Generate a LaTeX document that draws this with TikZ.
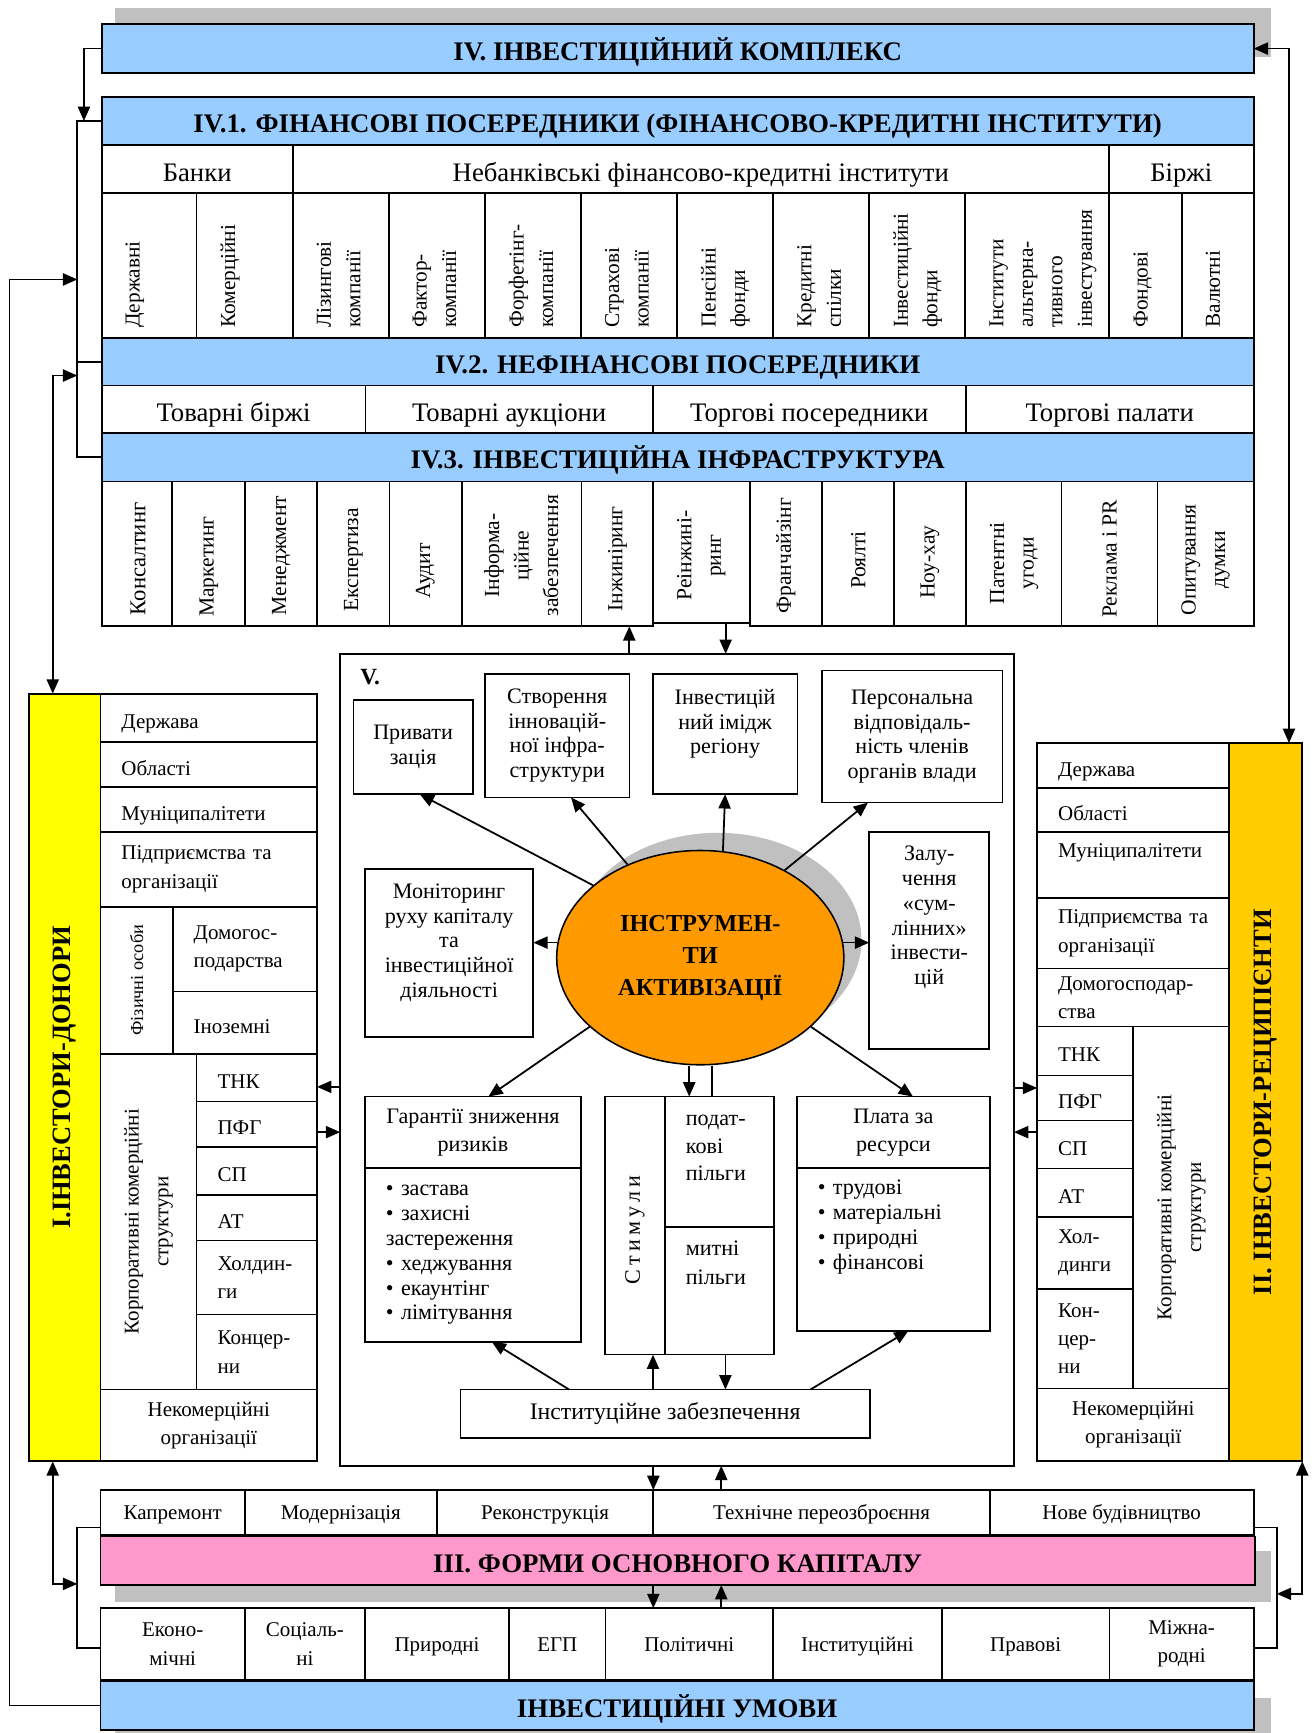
\documentclass[tikz,border=0pt]{standalone}
\usepackage{fontspec}
\setmainfont{Liberation Serif}
\usetikzlibrary{arrows.meta,calc,shapes.geometric}
\definecolor{cblue}{HTML}{99CCFF}
\definecolor{cyellow}{HTML}{FFFF00}
\definecolor{cgold}{HTML}{FFCC00}
\definecolor{cpink}{HTML}{FF99CC}
\definecolor{corange}{HTML}{FF9900}
\definecolor{cgray}{HTML}{C0C0C0}
\newcommand\fs[2]{\fontsize{#1}{#2}\selectfont}
\newcommand\mybox[7]{\pgfmathsetmacro\cw{#4-#2}\pgfmathsetmacro\ch{#5-#3}%
  \node[bx, minimum width=\cw pt, minimum height=\ch pt, anchor=north west, align=center, #6] (#1) at (#2,#3) {#7};}
\newcommand\mylbox[7]{\pgfmathsetmacro\cw{#4-#2}\pgfmathsetmacro\ch{#5-#3}\pgfmathsetmacro\tw{#4-#2-38}%
  \node[bx, minimum width=\cw pt, minimum height=\ch pt, anchor=north west, align=left, text width=\tw pt, #6] (#1) at (#2,#3) {#7};}
\tikzset{
  bx/.style={draw, line width=1.6pt, inner sep=0pt, outer sep=0pt},
  hdr/.style={font=\fs{24.3}{28}\bfseries, text height=21pt, text depth=0pt},
  tf/.style={font=\fs{24.2}{28}, text height=23pt, text depth=0pt},
  lf/.style={font=\fs{19}{25.7}},
  lf1/.style={font=\fs{19}{25.7}, text height=19pt, text depth=0pt},
  vf/.style={font=\fs{20}{22.4}},
  bf/.style={font=\fs{19}{25.6}},
  bf1/.style={font=\fs{19}{25.6}, text height=13pt, text depth=0pt},
  arr/.style={line width=1.6pt, -{Triangle[length=13pt,width=11pt]}},
  darr/.style={line width=1.6pt, {Triangle[length=13pt,width=11pt]}-{Triangle[length=13pt,width=11pt]}},
  ln/.style={line width=1.6pt},
  vt/.style={rotate=90, inner sep=0pt, align=left, anchor=north west, font=\fs{19.3}{26.7}},
  it/.style={rotate=90, inner sep=0pt, align=center, font=\fs{19.5}{26.7}},
  rt/.style={rotate=90, inner sep=0pt, align=center},
}
\begin{document}
\begin{tikzpicture}[x=1pt,y=-1pt]
\useasboundingbox (0,0) rectangle (1190,1569);
% ---------- IV ----------
\fill[cgray] (104,7) rectangle (1151,52);
\mybox{iv}{92}{22}{1135}{66}{fill=cblue,hdr}{IV. ІНВЕСТИЦІЙНИЙ КОМПЛЕКС}
\mybox{iv1}{92}{88}{1135}{131}{fill=cblue,hdr}{IV.1. ФІНАНСОВІ ПОСЕРЕДНИКИ (ФІНАНСОВО-КРЕДИТНІ ІНСТИТУТИ)}
\mybox{h1}{92}{131}{265}{175}{tf}{Банки}
\mybox{h2}{265}{131}{1004}{175}{tf}{Небанківські фінансово-кредитні інститути}
\mybox{h3}{1004}{131}{1135}{175}{tf}{Біржі}
\foreach \a/\b [count=\i] in {92/178,178/265,265/352,352/439,439/526,526/613,613/700,700/787,787/874,874/1004,1004/1070,1070/1135}
  {\mybox{f\i}{\a}{175}{\b}{306}{}{}}
\node[vt] (v1) at (113.5,297) {Державні};
\node[vt] (v2) at (199.5,297) {Комерційні};
\node[vt] (v3) at (286.5,297) {Лізингові\\компанії};
\node[vt] (v4) at (373.5,297) {Фактор-\\компанії};
\node[vt] (v5) at (460.5,297) {Форфетінг-\\компанії};
\node[vt] (v6) at (547.5,297) {Страхові\\компанії};
\node[vt] (v7) at (634.5,297) {Пенсійні\\фонди};
\node[vt] (v8) at (721.5,297) {Кредитні\\спілки};
\node[vt] (v9) at (808.5,297) {Інвестиційні\\фонди};
\node[vt] (v10) at (895.5,297) {Інститути\\альтерна-\\тивного\\інвестування};
\node[vt] (v11) at (1026,297) {Фондові};
\node[vt] (v12) at (1091.5,297) {Валютні};
\mybox{iv2}{92}{306}{1135}{349}{fill=cblue,hdr}{IV.2. НЕФІНАНСОВІ ПОСЕРЕДНИКИ}
\mybox{n1}{92}{349}{331}{392}{tf}{Товарні біржі}
\mybox{n2}{331}{349}{591}{392}{tf}{Товарні аукціони}
\mybox{n3}{591}{349}{874.5}{392}{tf}{Торгові посередники}
\mybox{n4}{874.5}{349}{1135}{392}{tf}{Торгові палати}
\mybox{iv3}{92}{392}{1135}{436}{fill=cblue,hdr}{IV.3. ІНВЕСТИЦІЙНА ІНФРАСТРУКТУРА}
\foreach \a/\b/\c [count=\i] in {92/156/567,156/222/567,222/287/567,287/352.6/567,352.6/418/567,418/526.5/567,526.5/591/567,591/679/564,679/744/567,744/809.5/567,809.5/874.5/567,874.5/961/567,961/1048/567,1048/1135/567}
  {\mybox{c\i}{\a}{436}{\b}{\c}{}{}}
\node[it, font=\fs{20.5}{26.7}] (ct1) at (125,506) {Консалтинг};
\node[it] (ct2) at (189,513) {Маркетинг};
\node[it] (ct3) at (254.5,503) {Менеджмент};
\node[it] (ct4) at (320,507) {Експертиза};
\node[it] (ct5) at (385,517) {Аудит};
\node[it] (ct6) at (472,503) {Інформа-\\ційне\\забезпечення};
\node[it] (ct7) at (559,506) {Інжиніринг};
\node[it] (ct8) at (635,503) {Реінжині-\\ринг};
\node[it] (ct9) at (711.5,503) {Франчайзінг};
\node[it] (ct10) at (777,507) {Роялті};
\node[it] (ct11) at (842,509) {Ноу-хау};
\node[it] (ct12) at (918,510) {Патентні\\угоди};
\node[it] (ct13) at (1004.5,506) {Реклама і PR};
\node[it] (ct14) at (1091.5,507) {Опитування\\думки};
% ---------- I. donors ----------
\mybox{dn}{26.5}{628}{91}{1323}{fill=cyellow}{}
\node[rt, font=\fs{24}{28}\bfseries] (dnt) at (dn.center) {I.ІНВЕСТОРИ-ДОНОРИ};
\mylbox{l1}{91}{628}{287}{672}{lf1}{Держава}
\mylbox{l2}{91}{672}{287}{712.5}{lf1}{Області}
\mylbox{l3}{91}{712.5}{287}{753.3}{lf1}{Муніципалітети}
\mylbox{l4}{91}{753.3}{287}{821}{lf}{Підприємства~та\\організації}
\mybox{l5}{91}{821}{156.4}{954}{}{}
\node[rt, font=\fs{16.5}{20}] (l5t) at (l5.center) {Фізичні особи};
\mylbox{l6}{156.4}{821}{287}{897.6}{lf}{Домогос-\\подарства}
\mylbox{l7}{156.4}{897.6}{287}{954}{lf1}{Іноземні}
\mybox{l8}{91}{954}{178}{1258}{}{}
\node[rt, font=\fs{19}{27}] (l8t) at (l8.center) {Корпоративні комерційні\\структури};
\mylbox{l9}{178}{954}{287}{997.3}{lf1}{ТНК}
\mylbox{l10}{178}{997.3}{287}{1038.6}{lf1}{ПФГ}
\mylbox{l11}{178}{1038.6}{287}{1081.8}{lf1}{СП}
\mylbox{l12}{178}{1081.8}{287}{1123}{lf1}{АТ}
\mylbox{l13}{178}{1123}{287}{1190}{lf}{Холдин-\\ги}
\mylbox{l14}{178}{1190}{287}{1258}{lf}{Концер-\\ни}
\mybox{l15}{91}{1258}{287}{1323}{lf}{Некомерційні\\організації}
% ---------- II. recipients ----------
\mybox{rc}{1113}{672.7}{1179}{1323}{fill=cgold}{}
\node[rt, font=\fs{24}{28}\bfseries] (rct) at (rc.center) {II. ІНВЕСТОРИ-РЕЦИПІЄНТИ};
\mylbox{r1}{939}{672.7}{1113}{713.5}{lf1}{Держава}
\mylbox{r2}{939}{713.5}{1113}{753}{lf1}{Області}
\mylbox{r3}{939}{753}{1113}{813}{lf}{Муніципалітети\\~}
\mylbox{r4}{939}{813}{1113}{876.8}{lf}{Підприємства~та\\організації}
\mylbox{r5}{939}{876.8}{1113}{929.4}{lf}{Домогосподар-\\ства}
\mylbox{r6}{939}{929.4}{1026}{973.7}{lf1}{ТНК}
\mylbox{r7}{939}{973.7}{1026}{1014.5}{lf1}{ПФГ}
\mylbox{r8}{939}{1014.5}{1026}{1058}{lf1}{СП}
\mylbox{r9}{939}{1058}{1026}{1101.5}{lf1}{АТ}
\mylbox{r10}{939}{1101.5}{1026}{1166.7}{lf}{Хол-\\динги}
\mylbox{r11}{939}{1166.7}{1026}{1257}{lf}{Кон-\\цер-\\ни}
\mybox{r12}{1026}{929.4}{1113}{1257}{}{}
\node[rt, font=\fs{19}{27}] (r12t) at (r12.center) {Корпоративні комерційні\\структури};
\mybox{r13}{939}{1257}{1113}{1323}{lf}{Некомерційні\\організації}
% ---------- V ----------
\mybox{vb}{308}{592}{918}{1327}{}{}
\node[font=\fs{21}{24}\bfseries, anchor=west, inner sep=0pt] (vlab) at (326,613) {V.};
\mybox{p1}{320}{633.5}{428}{719}{vf}{Привати\\зація}
\mybox{p2}{439}{610}{570}{722}{vf}{Створення\\інновацій-\\ної інфра-\\структури}
\mybox{p3}{591}{610}{722}{719}{vf}{Інвестицій\\ний імідж\\регіону\\~}
\mybox{p4}{744}{607}{907.6}{726.6}{vf}{Персональна\\відповідаль-\\ність членів\\органів влади}
\mybox{p5}{330.4}{786.5}{482.8}{939}{vf}{Моніторинг\\руху капіталу\\та\\інвестиційної\\діяльності\\~}
\mybox{p6}{787}{753}{895.7}{949.5}{vf}{Залу-\\чення\\«сум-\\лінних»\\інвести-\\цій\\~\\~}
\node[ellipse, fill=cgray, minimum width=260pt, minimum height=194pt, inner sep=0pt] (elsh) at (650,851) {};
\node[ellipse, draw, line width=1.4pt, fill=corange, minimum width=260pt, minimum height=194pt, inner sep=0pt, align=center, font=\fs{22}{29}\bfseries] (el) at (634,867) {ІНСТРУМЕН-\\ТИ\\АКТИВІЗАЦІЇ};
\mybox{gh}{330.4}{992.8}{526}{1057.7}{font=\fs{20}{25.6}}{Гарантії зниження\\ризиків}
\mylbox{gb}{330.4}{1057.7}{526}{1214.7}{font=\fs{20}{22.5}}{• застава\\• захисні\\застереження\\• хеджування\\• екаунтінг\\• лімітування}
\mybox{sl}{547.6}{992.8}{602}{1226.4}{}{}
\node[rt, font=\fs{20}{24}\addfontfeature{LetterSpace=20}] (slt) at ($(sl.center)+(0,4)$) {Стимули};
\mylbox{st}{602}{992.8}{700.5}{1111}{font=\fs{20}{25.2}}{подат-\\кові\\пільги\\~}
\mylbox{sb}{602}{1111}{700.5}{1226.4}{font=\fs{20}{25.6}}{митні\\пільги\\~\\~}
\mybox{ph}{721.5}{992.8}{896.2}{1057.7}{font=\fs{20}{25.6}}{Плата за\\ресурси}
\mylbox{pb}{721.5}{1057.7}{896.2}{1204.7}{font=\fs{20}{22.7}}{• трудові\\• матеріальні\\• природні\\• фінансові\\~\\~}
\mybox{inst}{417}{1258}{787.4}{1302}{font=\fs{21.5}{24}}{Інституційне забезпечення}
% V internal arrows
\draw[arr] (el.146) -- ($(p1.south)+(6,0)$);
\draw[arr] (el.128) -- ($(p2.south)+(12.5,0)$);
\draw[arr] (el.78) -- (p3.south);
\draw[arr] (el.46) -- ($(p4.south)+(-40,0)$);
\draw[arr] (el.174) -- (el.174 -| p5.east);
\draw[arr] (el.6) -- (el.6 -| p6.west);
\draw[arr] (el.212) -- ($(gh.north)+(14,0)$);
\draw[arr] (el.-32) -- ($(ph.north)+(17.7,0)$);
\path ($(el.south)+(-10,0)$) coordinate (e1) ($(el.south)+(10.6,0)$) coordinate (e2);
\draw[arr] (e1) -- (e1 |- st.north);
\draw[ln] (e2) -- (e2 |- st.north);
\draw[arr] ($(inst.north)+(-87,0)$) -- ($(gb.south)+(17,0)$);
\draw[arr] ($(inst.north)+(131.6,0)$) -- ($(pb.south)+(13.7,0)$);
\path ($(inst.north)+(-11,0)$) coordinate (i1) ($(sb.south)+(5.5,0)$) coordinate (i2);
\draw[arr] (i1) -- (i1 |- sl.south);
\draw[arr] (i2) -- (i2 |- inst.north);
% ---------- bottom ----------
\mybox{k1}{91}{1349}{221.7}{1390}{bf1}{Капремонт}
\mybox{k2}{221.7}{1349}{395.6}{1390}{bf1}{Модернізація}
\mybox{k3}{395.6}{1349}{591.5}{1390}{bf1}{Реконструкція}
\mybox{k4}{591.5}{1349}{896}{1390}{bf1}{Технічне переозброєння}
\mybox{k5}{896}{1349}{1135}{1390}{bf1}{Нове будівництво}
\fill[cgray] (104,1404) rectangle (1151,1450);
\mybox{iii}{91}{1391}{1136}{1435}{fill=cpink,hdr}{III. ФОРМИ ОСНОВНОГО КАПІТАЛУ}
\mybox{b1}{91}{1456}{221.7}{1521}{bf}{Еконо-\\мічні}
\mybox{b2}{221.7}{1456}{330.3}{1521}{bf}{Соціаль-\\ні}
\mybox{b3}{330.3}{1456}{461}{1521}{bf1}{Природні}
\mybox{b4}{461}{1456}{548.2}{1521}{bf1}{ЕГП}
\mybox{b5}{548.2}{1456}{700}{1521}{bf1}{Політичні}
\mybox{b6}{700}{1456}{852.6}{1521}{bf1}{Інституційні}
\mybox{b7}{852.6}{1456}{1004.5}{1521}{bf1}{Правові}
\mybox{b8}{1004.5}{1456}{1135}{1521}{bf}{Міжна-\\родні}
\fill[cgray] (104,1537) rectangle (1151,1569);
\mybox{um}{91}{1522}{1135}{1566}{fill=cblue,hdr}{ІНВЕСТИЦІЙНІ УМОВИ}
% ---------- connectors ----------
\draw[arr] (iv.west) -| ($(iv1.west)+(-16,0)$);
\draw[ln] (iv1.west) -- ++(-22,0) |- (iv3.west);
\draw[ln] (iv2.west) -- ++(-22,0);
\coordinate (lbA) at (70,253);
\coordinate (lbB) at (70,340);
\draw[arr] (um.west) -- ++(-82.5,0) |- (lbA);
\draw[darr] ($(dn.north)+(-11,0)$) |- (lbB);
\draw[darr] (iv.east) -| ($(rc.north)+(21,0)$);
\path ($(c7.south)+(11,0)$) coordinate (u1) ($(c8.south)+(22,0)$) coordinate (u2);
\draw[arr] (u1 |- vb.north) -- (u1);
\draw[arr] (u2) -- (u2 |- vb.north);
\draw[arr] ($(vb.west)+(0,24.5)$) -- ++(-21,0);
\draw[arr] ($(vb.west)+(-21,65.5)$) -- ++(21,0);
\draw[arr] ($(vb.east)+(0,25.5)$) -- ++(21,0);
\draw[arr] ($(vb.east)+(21,65.5)$) -- ++(-21,0);
\path ($(vb.south)+(-21.5,0)$) coordinate (d1) ($(vb.south)+(40,0)$) coordinate (d2);
\draw[arr] (d1) -- (d1 |- k4.north);
\draw[arr] (d2 |- k4.north) -- (d2);
\path ($(iii.south)+(-22,0)$) coordinate (d3) ($(iii.south)+(39.5,0)$) coordinate (d4);
\draw[arr] (d3) -- (d3 |- b5.north);
\draw[arr] (d4 |- b5.north) -- (d4);
\draw[ln] ($(k1.west)+(0,13.5)$) -- ++(-21,0) |- ($(b1.west)+(0,3.5)$);
\draw[ln] ($(k5.east)+(0,13.5)$) -- ++(21,0) |- ($(b8.east)+(0,3.5)$);
\coordinate (lbC) at (70,1434);
\coordinate (rbC) at (1156,1443);
\draw[darr] ($(dn.south)+(-11,0)$) |- (lbC);
\draw[darr] (rc.south east) |- (rbC);
\end{tikzpicture}
\end{document}
